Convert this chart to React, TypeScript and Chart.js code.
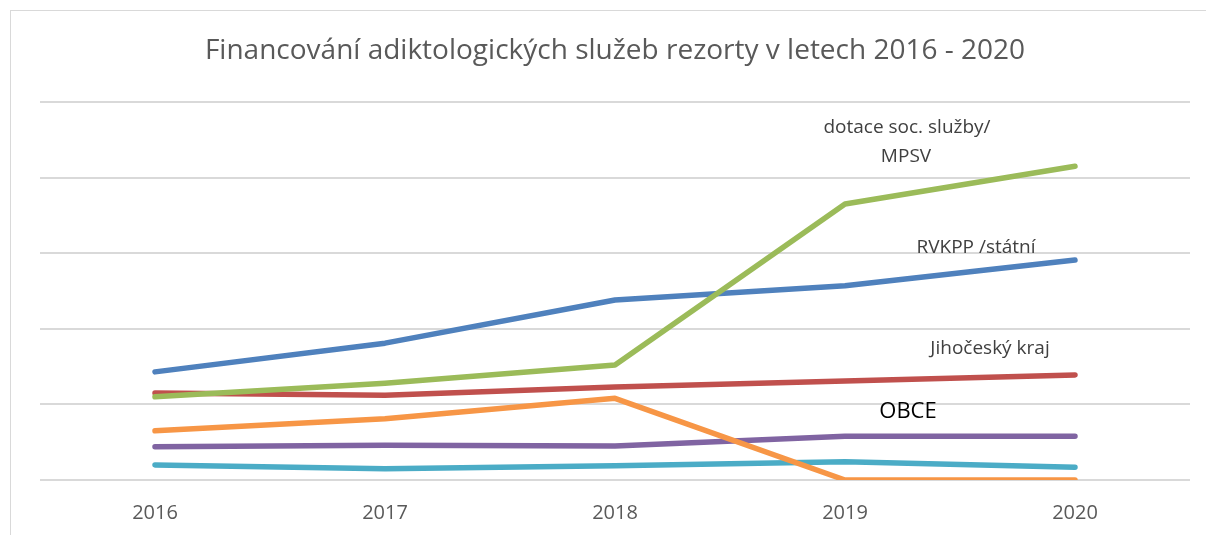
import React, { useEffect, useRef } from "react";
import { Chart, registerables } from "chart.js";

Chart.register(...registerables);

const TITLE = "Financování adiktologických služeb rezorty v letech 2016 - 2020";
const years = ["2016", "2017", "2018", "2019", "2020"];
const rvkpp = [1.43, 1.81, 2.38, 2.57, 2.91];
const mpsv = [1.1, 1.28, 1.52, 3.65, 4.15];
const kraj = [1.15, 1.12, 1.23, 1.31, 1.39];
const obce = [0.65, 0.81, 1.08, 0, 0];
const purple = [0.44, 0.46, 0.45, 0.58, 0.58];
const teal = [0.2, 0.15, 0.19, 0.24, 0.17];

const FONT = "'Open Sans', 'Noto Sans', sans-serif";

const decor = {
  id: "decor",
  beforeDraw(chart: any) {
    const ctx = chart.ctx;
    ctx.save();
    ctx.fillStyle = "#ffffff";
    ctx.fillRect(0, 0, chart.width, chart.height);
    ctx.strokeStyle = "#d9d9d9";
    ctx.lineWidth = 1;
    ctx.strokeRect(10.5, 10.5, chart.width + 20, chart.height + 20);
    ctx.restore();
  },
  afterDraw(chart: any) {
    const ctx = chart.ctx;
    ctx.save();
    ctx.textAlign = "center";
    ctx.textBaseline = "middle";
    ctx.fillStyle = "#595959";
    ctx.font = `28px ${FONT}`;
    ctx.fillText(TITLE, 615, 51);
    ctx.font = `19px ${FONT}`;
    ctx.fillStyle = "#404040";
    ctx.fillText("dotace soc. služby/", 907, 128);
    ctx.fillText("MPSV", 906, 157);
    ctx.fillText("RVKPP /státní", 976, 248);
    ctx.fillText("Jihočeský kraj", 990, 349);
    ctx.fillStyle = "#000000";
    ctx.font = `22px ${FONT}`;
    ctx.fillText("OBCE", 908, 412);
    ctx.restore();
  },
};

function ds(label: string, data: number[], color: string) {
  return {
    label,
    data,
    borderColor: color,
    backgroundColor: color,
    borderWidth: 5.5,
    borderCapStyle: "round" as const,
    borderJoinStyle: "round" as const,
    pointRadius: 0,
    tension: 0,
    fill: false,
  };
}

export default function App() {
  const ref = useRef<HTMLCanvasElement>(null);
  useEffect(() => {
    if (!ref.current) return;
    const chart = new Chart(ref.current, {
      type: "line",
      data: {
        labels: years,
        datasets: [
          ds("dotace soc. služby/ MPSV", mpsv, "#9BBB59"),
          ds("OBCE", obce, "#F79646"),
          ds("RVKPP /státní", rvkpp, "#4F81BD"),
          ds("Jihočeský kraj", kraj, "#C0504D"),
          ds("ostatní", purple, "#8064A2"),
          ds("ostatní 2", teal, "#4BACC6"),
        ],
      },
      options: {
        animation: false,
        responsive: false,
        devicePixelRatio: 1,
        layout: { padding: { left: 40, right: 16, top: 102, bottom: 0 } },
        plugins: { legend: { display: false }, title: { display: false }, tooltip: { enabled: false } },
        scales: {
          x: {
            offset: true,
            grid: { display: false, drawTicks: false },
            border: { display: false },
            ticks: { color: "#595959", font: { family: FONT, size: 20 }, padding: 21 },
            afterFit(scale: any) {
              scale.height = 55;
            },
          },
          y: {
            min: 0,
            max: 5,
            ticks: { display: false, stepSize: 1 },
            grid: { color: "#d9d9d9", lineWidth: 2, drawTicks: false },
            border: { display: false },
          },
        },
      },
      plugins: [decor],
    });
    return () => chart.destroy();
  }, []);
  return (
    <div style={{ position: "fixed", left: 0, top: 0, width: 1206, height: 535, background: "#fff" }}>
      <canvas ref={ref} width={1206} height={535} style={{ display: "block" }} />
    </div>
  );
}
